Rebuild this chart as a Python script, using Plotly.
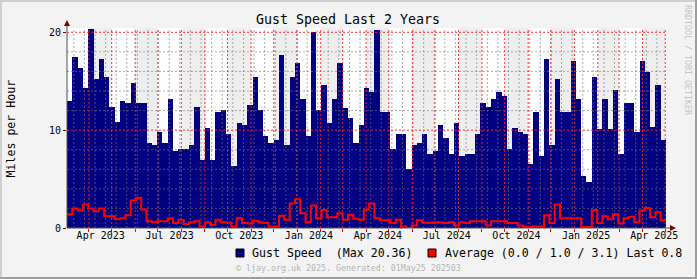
import pandas as pd
import plotly.graph_objects as go

# ---------------- data ----------------
start_date = "2023-03-03"
end_date = "2025-05-02"

gust_speed = [
    13.0, 17.5, 16.4, 14.3, 20.36, 15.2, 17.3, 15.4, 12.4, 10.8,
    13.0, 12.75, 14.8, 12.8, 12.8, 8.7, 8.5, 9.8, 8.7, 13.2,
    7.9, 8.1, 8.1, 8.5, 12.4, 7.0, 10.2, 7.0, 11.9, 12.1,
    9.6, 6.3, 10.7, 10.5, 12.6, 15.4, 12.1, 9.4, 8.7, 9.0,
    17.7, 8.5, 15.4, 16.9, 13.2, 9.4, 20.0, 12.1, 14.6, 10.7,
    13.2, 16.9, 12.3, 11.25, 8.7, 10.5, 14.3, 13.9, 20.2, 11.9,
    11.9, 8.1, 9.6, 9.6, 6.05, 8.5, 8.7, 9.6, 7.6, 7.9,
    10.5, 9.2, 7.6, 10.7, 7.4, 7.6, 7.6, 9.6, 12.8, 12.4,
    13.2, 13.9, 13.5, 8.1, 10.2, 9.8, 9.6, 6.5, 11.9, 7.4,
    17.3, 8.5, 15.2, 11.9, 11.9, 17.1, 13.2, 5.3, 4.7, 15.4,
    10.1, 13.2, 10.1, 14.1, 7.6, 12.8, 12.8, 9.8, 17.1, 15.9,
    10.3, 14.6, 9.0,
]

average_speed = [
    1.4, 2.0, 1.8, 2.4, 2.0, 1.7, 2.0, 1.2, 1.2, 0.9,
    1.0, 1.3, 2.8, 3.1, 1.9, 0.7, 0.6, 0.7, 0.7, 1.0,
    0.5, 0.85, 0.4, 0.6, 0.7, 0.15, 0.6, 0.3, 0.85, 0.6,
    0.55, 0.15, 1.0, 0.5, 0.45, 0.75, 0.6, 0.5, 0.15, 0.15,
    1.25, 0.85, 2.5, 2.95, 1.5, 0.6, 2.3, 1.0, 1.85, 1.1,
    1.1, 1.5, 0.85, 1.35, 0.95, 0.85, 1.9, 2.5, 1.0, 0.8,
    0.8, 0.5, 0.85, 0.15, 0.0, 0.25, 0.8, 0.55, 0.5, 0.6,
    0.55, 0.5, 0.6, 0.25, 0.6, 0.5, 0.7, 0.7, 0.7, 0.25,
    0.7, 0.7, 0.7, 0.5, 0.5, 0.25, 0.1, 0.1, 0.15, 0.15,
    1.3, 0.5, 2.4, 1.0, 1.0, 1.0, 1.0, 0.1, 0.1, 1.85,
    0.5, 1.2, 0.9, 1.4, 0.45, 1.0, 1.15, 0.6, 1.8, 2.05,
    1.1, 1.6, 0.8,
]

tick_label_dates = ["2023-04-16 12:00", "2023-07-16 12:00", "2023-10-16 12:00",
                    "2024-01-16 12:00", "2024-04-16 12:00", "2024-07-16 12:00",
                    "2024-10-16 12:00", "2025-01-16 12:00", "2025-04-16 12:00"]
tick_labels = ["Apr 2023", "Jul 2023", "Oct 2023", "Jan 2024", "Apr 2024",
               "Jul 2024", "Oct 2024", "Jan 2025", "Apr 2025"]

y_major = [10, 20]
y_minor = [2, 4, 6, 8, 12, 14, 16, 18]
Y_TOP = 20.44

title_text = "Gust Speed Last 2 Years"
legend_gust = "Gust Speed  (Max 20.36)"
legend_avg = "Average (0.0 / 1.0 / 3.1) Last 0.8"
footer_text = "© ljay.org.uk 2025. Generated: 01May25 202503"
side_text = "RRDTOOL / TOBI OETIKER"

# ---------------- derived ----------------
start = pd.Timestamp(start_date)
end = pd.Timestamp(end_date)
week = pd.Timedelta(days=7)
bar_starts = [start + i * week for i in range(len(gust_speed))]
bar_centers = [s + week / 2 for s in bar_starts]
step_x = bar_starts + [bar_starts[-1] + week]
step_y = average_speed + [average_speed[-1]]

month_starts = [d for d in pd.date_range("2023-04-01", end, freq="MS") if d <= end]
band_months = [d for d in pd.date_range("2023-04-01", end, freq="MS") if d.month % 2 == 0]
minor_v = list(pd.date_range("2023-03-12", end, freq="14D"))

PL, PR, PT, PB = 67, 666, 28, 228
W, H = PR - PL, PB - PT


def px(x):
    return (x - PL) / W


def py(y):
    return (PB - y) / H


FONT = "DejaVu Sans Mono"

fig = go.Figure()

fig.add_trace(go.Bar(
    x=bar_centers, y=gust_speed, width=7 * 86400000,
    marker=dict(color="#000080", line=dict(width=0)),
    showlegend=False, hoverinfo="skip"))


def vlines(dates):
    xs, ys = [], []
    for d in dates:
        xs += [d, d, None]
        ys += [0, Y_TOP, None]
    return xs, ys


def hlines(vals):
    xs, ys = [], []
    for v in vals:
        xs += [start, end, None]
        ys += [v, v, None]
    return xs, ys


gx, gy = vlines(minor_v)
hx, hy = hlines(y_minor)
fig.add_trace(go.Scatter(x=gx + hx, y=gy + hy, mode="lines",
                         line=dict(color="rgba(120,120,120,0.6)", width=1, dash="2px,2px"),
                         showlegend=False, hoverinfo="skip"))
rx, ry = vlines(month_starts)
rhx, rhy = hlines(y_major)
fig.add_trace(go.Scatter(x=rx + rhx, y=ry + rhy, mode="lines",
                         line=dict(color="rgba(255,30,30,0.9)", width=1, dash="2px,2px"),
                         showlegend=False, hoverinfo="skip"))

fig.add_trace(go.Scatter(x=step_x, y=step_y, mode="lines", line_shape="hv",
                         line=dict(color="#FF0000", width=2),
                         showlegend=False, hoverinfo="skip"))

shapes = []
# alternating month bands
for d in band_months:
    nd = d + pd.offsets.MonthBegin(1)
    x1 = min(nd, end)
    shapes.append(dict(type="rect", xref="x", yref="paper", x0=d, x1=x1, y0=0, y1=1,
                       fillcolor="#EEEEEE", line=dict(width=0), layer="below"))
# axes lines
shapes.append(dict(type="line", xref="paper", yref="paper", x0=px(67), x1=px(671),
                   y0=py(228), y1=py(228), line=dict(color="#505050", width=1), layer="above"))
shapes.append(dict(type="line", xref="paper", yref="paper", x0=px(67), x1=px(67),
                   y0=py(228), y1=py(24), line=dict(color="#505050", width=1), layer="above"))
# arrows
shapes.append(dict(type="path", xref="paper", yref="paper",
                   path=f"M {px(64)} {py(26)} L {px(70)} {py(26)} L {px(67)} {py(20)} Z",
                   fillcolor="#800000", line=dict(width=0), layer="above"))
shapes.append(dict(type="path", xref="paper", yref="paper",
                   path=f"M {px(670)} {py(225)} L {px(670)} {py(231)} L {px(676)} {py(228)} Z",
                   fillcolor="#800000", line=dict(width=0), layer="above"))
# legend squares
shapes.append(dict(type="rect", xref="paper", yref="paper", x0=px(236), x1=px(244),
                   y0=py(257), y1=py(249), fillcolor="#000080", line=dict(color="black", width=1)))
shapes.append(dict(type="rect", xref="paper", yref="paper", x0=px(428), x1=px(436),
                   y0=py(257), y1=py(249), fillcolor="#FF0000", line=dict(color="black", width=1)))
# frame shading
shapes.append(dict(type="rect", xref="paper", yref="paper", x0=px(0), x1=px(2), y0=py(0), y1=py(279),
                   fillcolor="#CFCFCF", line=dict(width=0)))
shapes.append(dict(type="rect", xref="paper", yref="paper", x0=px(0), x1=px(697), y0=py(0), y1=py(2),
                   fillcolor="#CFCFCF", line=dict(width=0)))
shapes.append(dict(type="rect", xref="paper", yref="paper", x0=px(695), x1=px(697), y0=py(0), y1=py(279),
                   fillcolor="#9E9E9E", line=dict(width=0)))
shapes.append(dict(type="rect", xref="paper", yref="paper", x0=px(0), x1=px(697), y0=py(277), y1=py(279),
                   fillcolor="#9E9E9E", line=dict(width=0)))

annotations = [
    dict(text=title_text, xref="paper", yref="paper", x=px(348), y=py(19), showarrow=False,
         xanchor="center", yanchor="middle", font=dict(family=FONT, size=13.3, color="black")),
    dict(text="Miles per Hour", xref="paper", yref="paper", x=px(10.5), y=py(129), showarrow=False,
         textangle=-90, xanchor="center", yanchor="middle", font=dict(family=FONT, size=11.6, color="black")),
    dict(text=legend_gust, xref="paper", yref="paper", x=px(250), y=py(253), showarrow=False,
         xanchor="left", yanchor="middle", font=dict(family=FONT, size=11.6, color="black")),
    dict(text=legend_avg, xref="paper", yref="paper", x=px(443), y=py(253), showarrow=False,
         xanchor="left", yanchor="middle", font=dict(family=FONT, size=11.6, color="black")),
    dict(text=footer_text, xref="paper", yref="paper", x=px(348), y=py(268), showarrow=False,
         xanchor="center", yanchor="middle", font=dict(family=FONT, size=8.3, color="#B4B4B4")),
    dict(text=side_text, xref="paper", yref="paper", x=px(688), y=py(60), showarrow=False,
         textangle=90, xanchor="center", yanchor="middle", font=dict(family=FONT, size=8.3, color="#C4C4C4")),
]

fig.update_layout(
    width=697, height=279,
    margin=dict(l=PL, r=697 - PR, t=PT, b=279 - PB, pad=0),
    paper_bgcolor="#F3F3F3", plot_bgcolor="#FFFFFF",
    bargap=0, showlegend=False,
    shapes=shapes, annotations=annotations,
    xaxis=dict(range=[start, end], type="date", showgrid=False, zeroline=False, showline=False,
               tickvals=tick_label_dates, ticktext=tick_labels, ticks="",
               tickfont=dict(family=FONT, size=10, color="black"),
               minor=dict(ticks="outside", tickvals=month_starts, ticklen=3,
                          tickcolor="#FF0000", showgrid=False)),
    yaxis=dict(range=[0, Y_TOP], showgrid=False, zeroline=False, showline=False,
               tickvals=[0] + y_major, ticks="outside", ticklen=3, tickcolor="#800000",
               tickfont=dict(family=FONT, size=10, color="black")),
)

fig.write_html("out.html")
